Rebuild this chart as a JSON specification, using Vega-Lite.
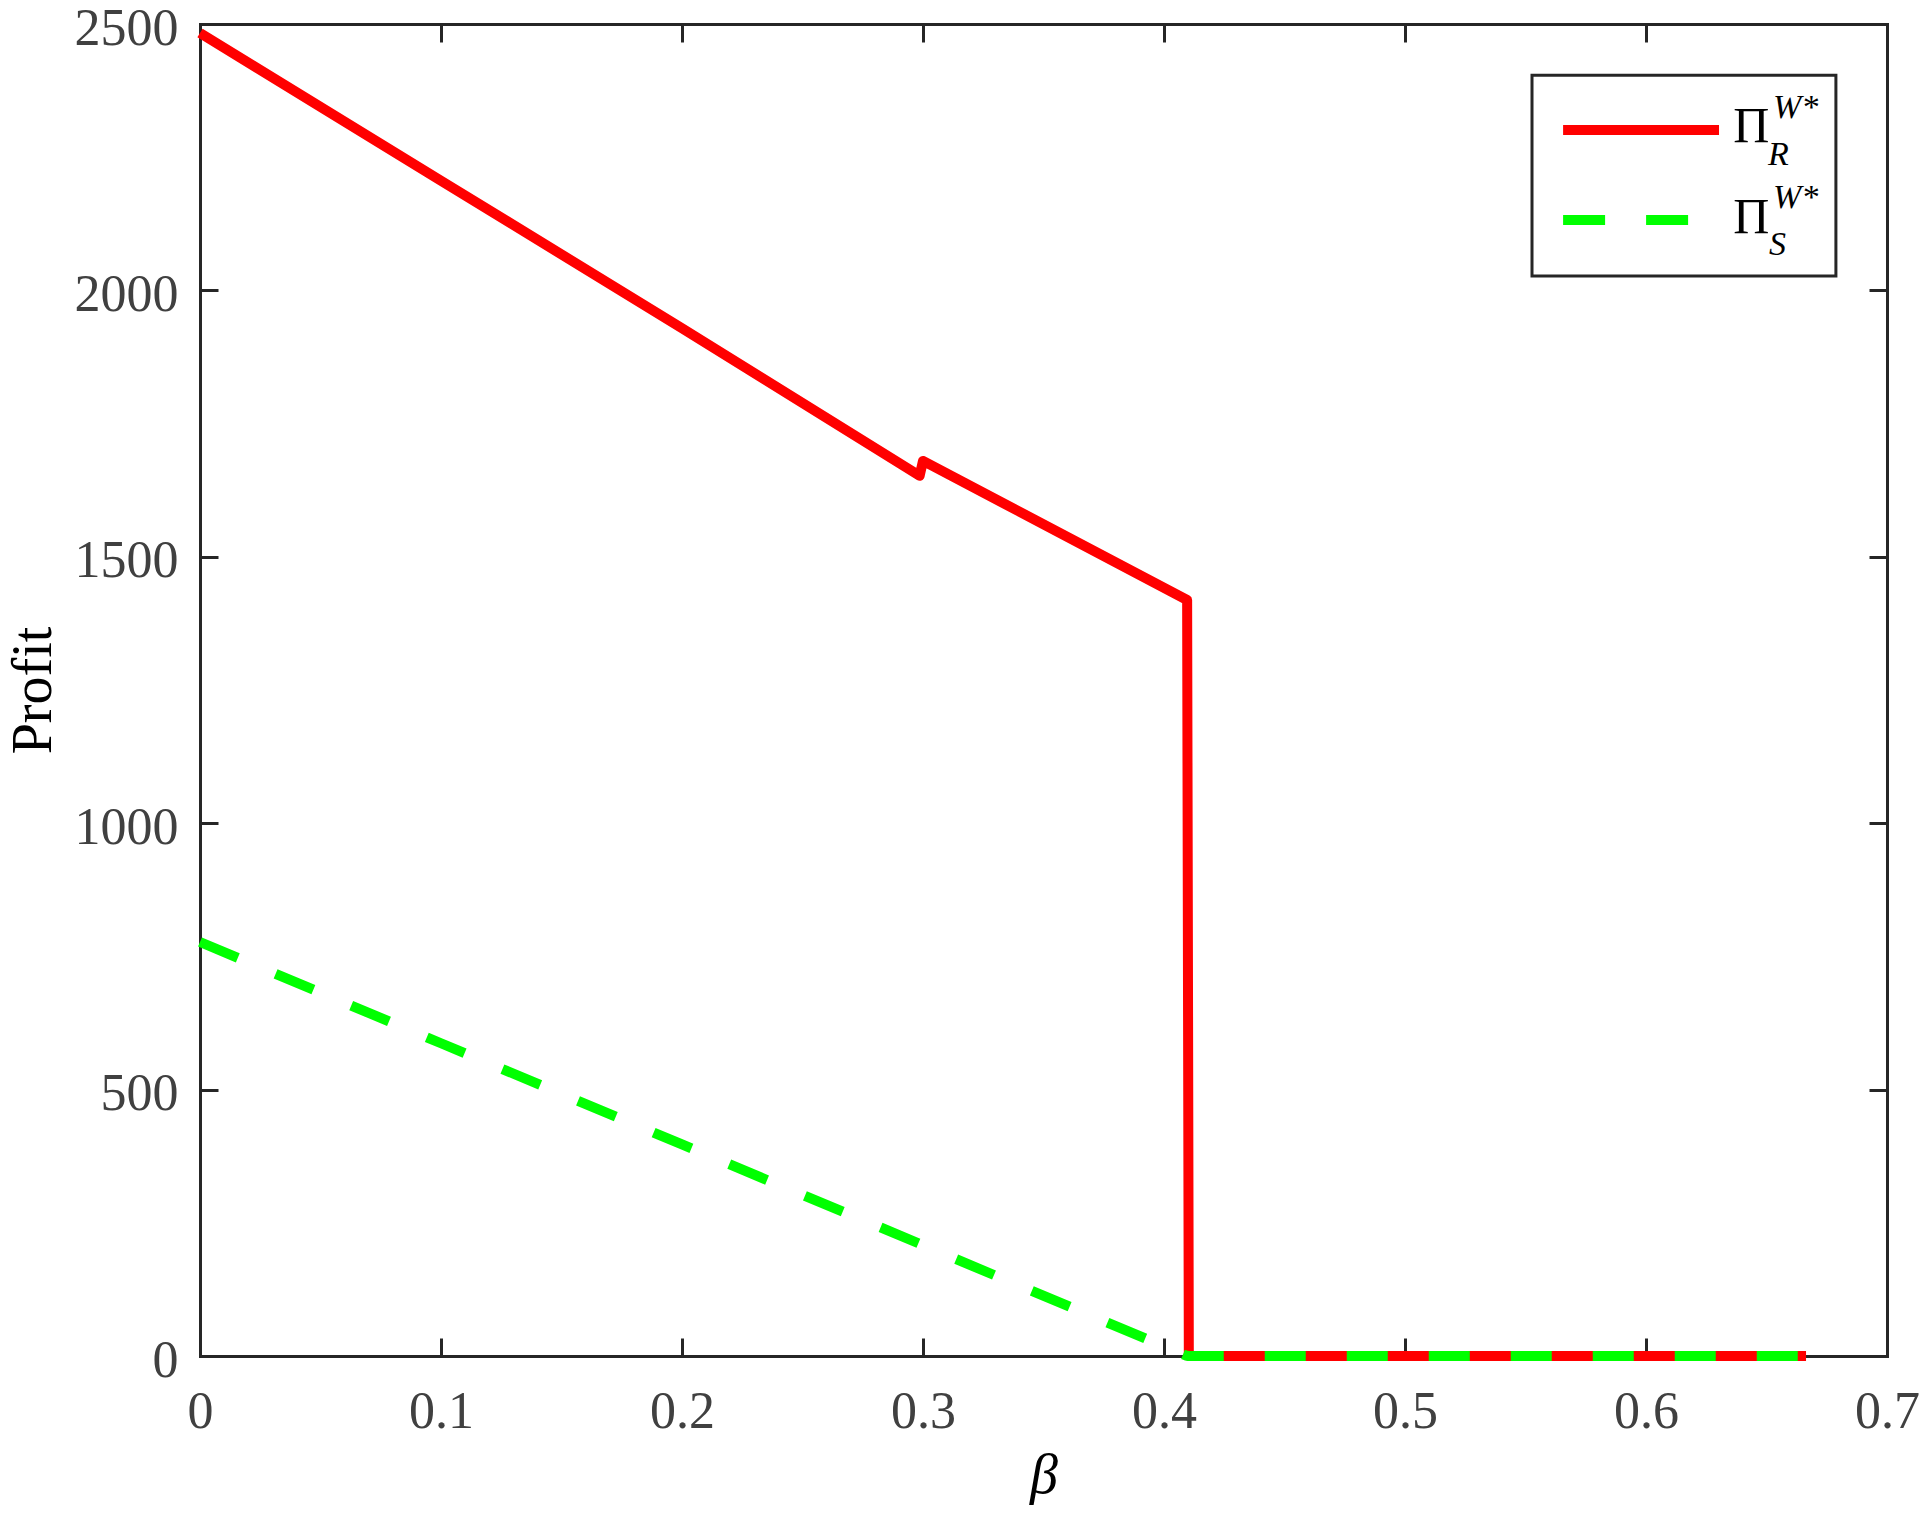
{
  "$schema": "https://vega.github.io/schema/vega-lite/v6.json",
  "width": 1687,
  "height": 1332,
  "autosize": {"type": "none"},
  "padding": {"left": 200, "top": 24, "right": 35, "bottom": 162},
  "background": "white",
  "config": {"view": {"stroke": null}, "font": "Liberation Serif, Times New Roman, serif"},
  "datasets": {
    "curves": [
      {"series": "R", "beta": 0, "profit": 2483, "ord": 1},
      {"series": "R", "beta": 0.1, "profit": 2206, "ord": 2},
      {"series": "R", "beta": 0.2, "profit": 1929, "ord": 3},
      {"series": "R", "beta": 0.2986, "profit": 1652, "ord": 4},
      {"series": "R", "beta": 0.3, "profit": 1680, "ord": 5},
      {"series": "R", "beta": 0.4096, "profit": 1419, "ord": 6},
      {"series": "R", "beta": 0.4103, "profit": 0, "ord": 7},
      {"series": "R", "beta": 0.6664, "profit": 0, "ord": 8},
      {"series": "S", "beta": 0, "profit": 777, "ord": 1},
      {"series": "S", "beta": 0.1, "profit": 587, "ord": 2},
      {"series": "S", "beta": 0.2, "profit": 397, "ord": 3},
      {"series": "S", "beta": 0.3, "profit": 208, "ord": 4},
      {"series": "S", "beta": 0.409, "profit": 1, "ord": 5},
      {"series": "S", "beta": 0.4103, "profit": 0, "ord": 6},
      {"series": "S", "beta": 0.6664, "profit": 0, "ord": 7}
    ]
  },
  "layer": [
    {
      "data": {"name": "curves"},
      "transform": [{"filter": "datum.series === 'R'"}],
      "mark": {"type": "line", "color": "#FF0000", "strokeWidth": 10, "strokeJoin": "round", "strokeCap": "butt"},
      "encoding": {
        "x": {
          "field": "beta", "type": "quantitative",
          "scale": {"domain": [0, 0.7], "nice": false, "zero": false},
          "axis": {
            "orient": "bottom", "values": [0, 0.1, 0.2, 0.3, 0.4, 0.5, 0.6, 0.7], "format": ".1~f",
            "labelFont": "Liberation Serif, Times New Roman, serif", "labelFontSize": 52, "labelColor": "#404040",
            "labelPadding": 48, "labelFlush": false, "labelOverlap": false, "labelBound": false,
            "tickSize": -18, "tickWidth": 3, "tickColor": "#262626",
            "domainColor": "#262626", "domainWidth": 3, "domainCap": "square", "grid": false,
            "title": "β", "titleFont": "Liberation Serif, Times New Roman, serif", "titleFontSize": 56, "titleFontStyle": "italic",
            "titleFontWeight": "normal", "titleColor": "#000000", "titlePadding": 11
          }
        },
        "y": {
          "field": "profit", "type": "quantitative",
          "scale": {"domain": [0, 2500], "nice": false, "zero": false},
          "axis": {
            "orient": "left", "values": [0, 500, 1000, 1500, 2000, 2500], "format": "d",
            "labelFont": "Liberation Serif, Times New Roman, serif", "labelFontSize": 52, "labelColor": "#404040",
            "labelPadding": 40, "labelOffset": 4, "labelFlush": false, "labelOverlap": false, "labelBound": false,
            "tickSize": -18, "tickWidth": 3, "tickColor": "#262626",
            "domainColor": "#262626", "domainWidth": 3, "domainCap": "square", "grid": false,
            "title": "Profit", "titleFont": "Liberation Serif, Times New Roman, serif", "titleFontSize": 56,
            "titleFontWeight": "normal", "titleColor": "#000000", "titlePadding": 12
          }
        },
        "order": {"field": "ord", "type": "quantitative"}
      }
    },
    {
      "data": {"name": "curves"},
      "transform": [{"filter": "datum.series === 'S'"}],
      "mark": {"type": "line", "color": "#00FF00", "strokeWidth": 10, "strokeDash": [41, 41], "strokeJoin": "round", "strokeCap": "butt"},
      "encoding": {
        "x": {
          "field": "beta", "type": "quantitative",
          "axis": {
            "orient": "top", "values": [0, 0.1, 0.2, 0.3, 0.4, 0.5, 0.6, 0.7], "labels": false,
            "tickSize": -18, "tickWidth": 3, "tickColor": "#262626",
            "domainColor": "#262626", "domainWidth": 3, "domainCap": "square", "grid": false, "title": null
          }
        },
        "y": {
          "field": "profit", "type": "quantitative",
          "axis": {
            "orient": "right", "values": [0, 500, 1000, 1500, 2000, 2500], "labels": false,
            "tickSize": -18, "tickWidth": 3, "tickColor": "#262626",
            "domainColor": "#262626", "domainWidth": 3, "domainCap": "square", "grid": false, "title": null
          }
        },
        "order": {"field": "ord", "type": "quantitative"}
      }
    },
    {
      "data": {"values": [{}]},
      "mark": {"type": "rect", "fill": "white", "stroke": "#262626", "strokeWidth": 3},
      "encoding": {
        "x": {"datum": 0.5527, "type": "quantitative", "axis": null},
        "x2": {"datum": 0.6788},
        "y": {"datum": 2404, "type": "quantitative", "axis": null},
        "y2": {"datum": 2027}
      }
    },
    {
      "data": {"values": [{}]},
      "mark": {"type": "rule", "color": "#FF0000", "strokeWidth": 10, "strokeCap": "butt"},
      "encoding": {
        "x": {"datum": 0.5656, "type": "quantitative", "axis": null},
        "x2": {"datum": 0.6303},
        "y": {"datum": 2301, "type": "quantitative", "axis": null}
      }
    },
    {
      "data": {"values": [{}]},
      "mark": {"type": "rule", "color": "#00FF00", "strokeWidth": 10, "strokeCap": "butt", "strokeDash": [42, 41]},
      "encoding": {
        "x": {"datum": 0.5656, "type": "quantitative", "axis": null},
        "x2": {"datum": 0.6177},
        "y": {"datum": 2132, "type": "quantitative", "axis": null}
      }
    },
    {
      "data": {"values": [{}]},
      "mark": {"type": "text", "text": "Π", "font": "Liberation Serif, Times New Roman, serif", "fontSize": 50, "align": "left", "baseline": "alphabetic", "color": "#000000"},
      "encoding": {
        "x": {"datum": 0.6362, "type": "quantitative", "axis": null},
        "y": {"datum": 2278, "type": "quantitative", "axis": null}
      }
    },
    {
      "data": {"values": [{}]},
      "mark": {"type": "text", "text": "Π", "font": "Liberation Serif, Times New Roman, serif", "fontSize": 50, "align": "left", "baseline": "alphabetic", "color": "#000000"},
      "encoding": {
        "x": {"datum": 0.6362, "type": "quantitative", "axis": null},
        "y": {"datum": 2108, "type": "quantitative", "axis": null}
      }
    },
    {
      "data": {"values": [{}]},
      "mark": {"type": "text", "text": "W*", "font": "Liberation Serif, Times New Roman, serif", "fontStyle": "italic", "fontSize": 34, "align": "left", "baseline": "alphabetic", "color": "#000000"},
      "encoding": {
        "x": {"datum": 0.6527, "type": "quantitative", "axis": null},
        "y": {"datum": 2324, "type": "quantitative", "axis": null}
      }
    },
    {
      "data": {"values": [{}]},
      "mark": {"type": "text", "text": "W*", "font": "Liberation Serif, Times New Roman, serif", "fontStyle": "italic", "fontSize": 34, "align": "left", "baseline": "alphabetic", "color": "#000000"},
      "encoding": {
        "x": {"datum": 0.6527, "type": "quantitative", "axis": null},
        "y": {"datum": 2155, "type": "quantitative", "axis": null}
      }
    },
    {
      "data": {"values": [{}]},
      "mark": {"type": "text", "text": "R", "font": "Liberation Serif, Times New Roman, serif", "fontStyle": "italic", "fontSize": 34, "align": "left", "baseline": "alphabetic", "color": "#000000"},
      "encoding": {
        "x": {"datum": 0.6506, "type": "quantitative", "axis": null},
        "y": {"datum": 2235, "type": "quantitative", "axis": null}
      }
    },
    {
      "data": {"values": [{}]},
      "mark": {"type": "text", "text": "S", "font": "Liberation Serif, Times New Roman, serif", "fontStyle": "italic", "fontSize": 34, "align": "left", "baseline": "alphabetic", "color": "#000000"},
      "encoding": {
        "x": {"datum": 0.651, "type": "quantitative", "axis": null},
        "y": {"datum": 2066, "type": "quantitative", "axis": null}
      }
    }
  ],
  "resolve": {"axis": {"x": "independent", "y": "independent"}}
}
